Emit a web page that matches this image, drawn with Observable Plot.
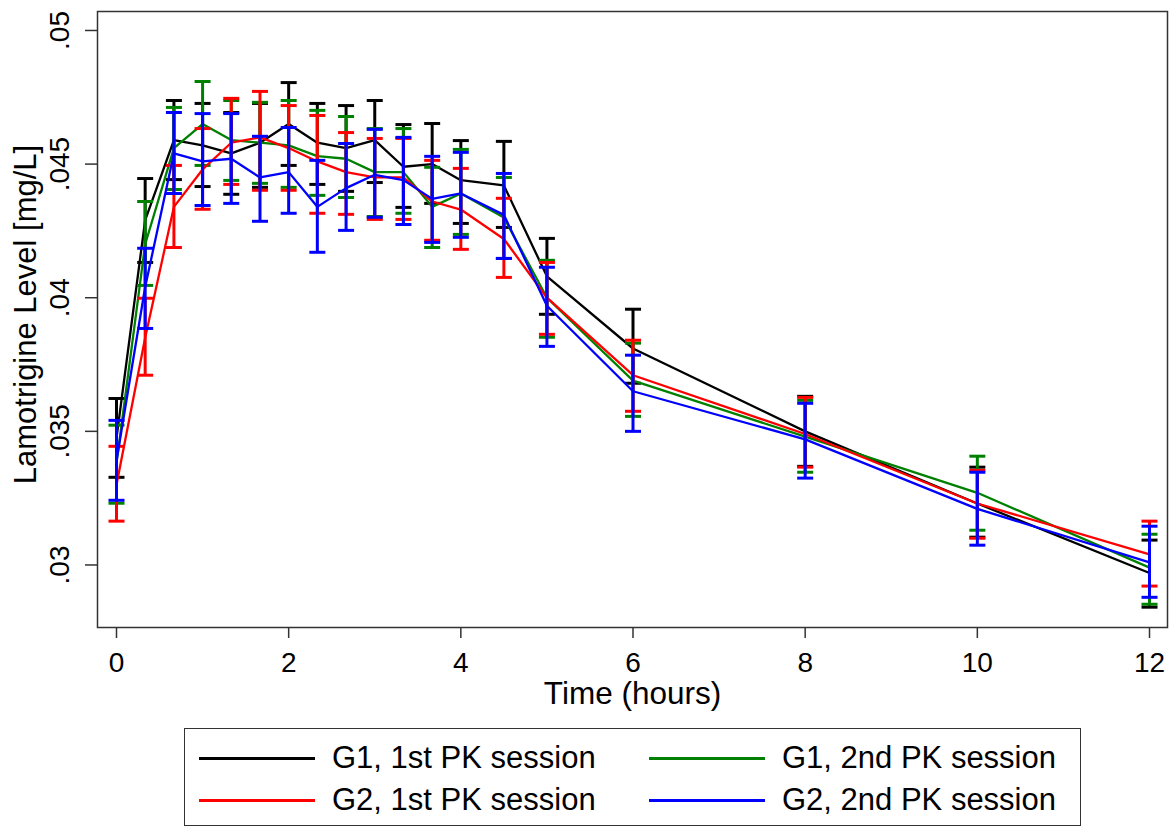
<!DOCTYPE html>
<html><head><meta charset="utf-8">
<script src="https://cdn.jsdelivr.net/npm/d3@7"></script>
<script src="https://cdn.jsdelivr.net/npm/@observablehq/plot@0.6"></script>
<style>
body{margin:0;background:#fff;font-family:"Liberation Sans",Arial,sans-serif;}
#wrap{position:relative;width:1171px;height:828px;overflow:hidden;}
#legend{position:absolute;left:184px;top:728px;width:897px;height:98px;border:1.5px solid #333;box-sizing:border-box;}
.item{position:absolute;display:flex;align-items:center;height:36px;font-size:31px;color:#000;white-space:nowrap;}
.sw{width:116px;height:3px;margin-right:17px;}
</style></head><body><div id="wrap"><div id="chart"></div><div id="legend"></div></div>
<script>
const times=[0,0.333,0.667,1,1.333,1.667,2,2.333,2.667,3,3.333,3.667,4,4.5,5,6,8,10,12];
const seriesNames=["G1, 1st PK session","G1, 2nd PK session","G2, 1st PK session","G2, 2nd PK session"];
const seriesColors=["#000000","#008000","#ff0000","#0000ff"];

const g1s1Mean=[0.03475,0.0429,0.0459,0.0457,0.0454,0.0458,0.0465,0.0458,0.0456,0.0459,0.0449,0.0450,0.0444,0.0442,0.0408,0.0381,0.0350,0.0323,0.0297];
const g1s1Lo=[0.03328,0.04132,0.04442,0.04416,0.04387,0.04413,0.04495,0.04424,0.04398,0.04431,0.04338,0.04353,0.04278,0.04263,0.03938,0.0368,0.03369,0.03104,0.02842];
const g1s1Hi=[0.03623,0.04446,0.04738,0.04727,0.04693,0.04727,0.04805,0.04727,0.04719,0.04738,0.04648,0.04652,0.04588,0.04585,0.04222,0.03957,0.03631,0.03366,0.03093];

const g1s2Mean=[0.0338,0.0420,0.0456,0.0465,0.0459,0.0458,0.0457,0.0453,0.0452,0.0447,0.0447,0.0434,0.0439,0.0430,0.0400,0.0369,0.0348,0.0327,0.0299];
const g1s2Lo=[0.03231,0.04046,0.04405,0.04495,0.04439,0.04428,0.04413,0.04383,0.04375,0.04304,0.04316,0.04188,0.04237,0.04147,0.03852,0.03556,0.03347,0.0313,0.02853];
const g1s2Hi=[0.03523,0.0436,0.04712,0.04809,0.04738,0.04731,0.04738,0.04701,0.04678,0.04633,0.04633,0.04488,0.04555,0.0445,0.0414,0.0383,0.03616,0.03407,0.03115];

const g2s1Mean=[0.0330,0.0385,0.0434,0.0448,0.0458,0.0460,0.0456,0.0451,0.0447,0.0445,0.0445,0.0436,0.0433,0.0422,0.0400,0.0371,0.0349,0.0323,0.0304];
const g2s1Lo=[0.03164,0.0371,0.04188,0.04331,0.04424,0.04402,0.04402,0.04316,0.04312,0.04293,0.04293,0.04215,0.04181,0.04076,0.03863,0.03575,0.03366,0.031,0.02921];
const g2s1Hi=[0.03444,0.03998,0.04495,0.04633,0.04746,0.04772,0.04719,0.04682,0.04618,0.04596,0.04596,0.04514,0.04484,0.04372,0.04132,0.03841,0.03627,0.03354,0.03164];

const g2s2Mean=[0.0339,0.0404,0.0454,0.0451,0.0452,0.0445,0.0447,0.0434,0.0441,0.0446,0.0444,0.0437,0.0439,0.0431,0.0397,0.0365,0.0347,0.0321,0.0301];
const g2s2Lo=[0.03242,0.03885,0.0439,0.04345,0.04353,0.04286,0.04316,0.0417,0.04252,0.04301,0.04274,0.04207,0.04226,0.04147,0.03818,0.035,0.03325,0.03074,0.02879];
const g2s2Hi=[0.03541,0.04185,0.04693,0.04689,0.04689,0.04604,0.04637,0.04514,0.04577,0.0463,0.046,0.04529,0.04544,0.04465,0.04114,0.03785,0.03605,0.03347,0.03145];

const xTicks=[0,2,4,6,8,10,12];
const yTicks=[0.03,0.035,0.04,0.045,0.05];
const yTickLabels=[".03",".035",".04",".045",".05"];
const xTitle="Time (hours)";
const yTitle="Lamotrigine Level [mg/L]";

const seriesData=[
  [g1s1Mean,g1s1Lo,g1s1Hi],
  [g1s2Mean,g1s2Lo,g1s2Hi],
  [g2s1Mean,g2s1Lo,g2s1Hi],
  [g2s2Mean,g2s2Lo,g2s2Hi]
];
const tables=seriesData.map(([m,lo,hi],s)=>times.map((t,i)=>({series:seriesNames[s],t,mean:m[i],lo:lo[i],hi:hi[i]})));

const capSymbol={draw(ctx,size){const r=Math.sqrt(size/Math.PI);ctx.moveTo(-r,0);ctx.lineTo(r,0);}};

const marks=[];
tables.forEach((rows,s)=>{
  const c=seriesColors[s];
  marks.push(Plot.ruleX(rows,{x:"t",y1:"lo",y2:"hi",stroke:c,strokeWidth:3}));
  marks.push(Plot.dot(rows,{x:"t",y:"hi",r:8,symbol:capSymbol,stroke:c,strokeWidth:3,fill:"none"}));
  marks.push(Plot.dot(rows,{x:"t",y:"lo",r:8,symbol:capSymbol,stroke:c,strokeWidth:3,fill:"none"}));
  marks.push(Plot.line(rows,{x:"t",y:"mean",stroke:c,strokeWidth:2.3,strokeLinejoin:"miter"}));
});

const chart=Plot.plot({
  width:1171,height:718,
  marginLeft:97,marginRight:4,marginTop:11,marginBottom:91,
  style:{fontFamily:"'Liberation Sans',Arial,sans-serif",background:"#fff",color:"#000"},
  x:{domain:[-0.2207,12.209]},
  y:{domain:[0.02766,0.05071]},
  marks:[
    Plot.axisX({ticks:xTicks,tickSize:11,tickPadding:14,fontSize:28,label:null,strokeWidth:1.5,stroke:"#333",fill:"#000"}),
    Plot.axisY({ticks:yTicks,tickSize:12,tickFormat:()=>"",label:null,strokeWidth:1.5,stroke:"#333"}),
    Plot.text(yTicks,{y:d=>d,text:(d,i)=>yTickLabels[i],frameAnchor:"left",textAnchor:"middle",dx:-37,rotate:-90,fontSize:28,lineAnchor:"middle",fill:"#000"}),
    Plot.text([yTitle],{text:d=>d,frameAnchor:"left",textAnchor:"middle",dx:-71,dy:-5,rotate:-90,fontSize:31,lineAnchor:"middle",fill:"#000"}),
    Plot.text([xTitle],{text:d=>d,frameAnchor:"bottom",dy:54,fontSize:31.5,lineAnchor:"top",fill:"#000"}),
    ...marks,
    Plot.frame({stroke:"#333",strokeWidth:1.5})
  ]
});
document.getElementById("chart").appendChild(chart);

const legend=document.getElementById("legend");
const legendPos=[[14,11],[464,11],[14,53],[464,53]];
const legendOrder=[0,1,2,3];
legendOrder.forEach((s,k)=>{
  const it=document.createElement("div");
  it.className="item";
  it.style.left=legendPos[k][0]+"px";
  it.style.top=legendPos[k][1]+"px";
  const sw=document.createElement("span");
  sw.className="sw";
  sw.style.background=seriesColors[s];
  const tx=document.createElement("span");
  tx.textContent=seriesNames[s];
  it.appendChild(sw);it.appendChild(tx);
  legend.appendChild(it);
});
</script></body></html>
